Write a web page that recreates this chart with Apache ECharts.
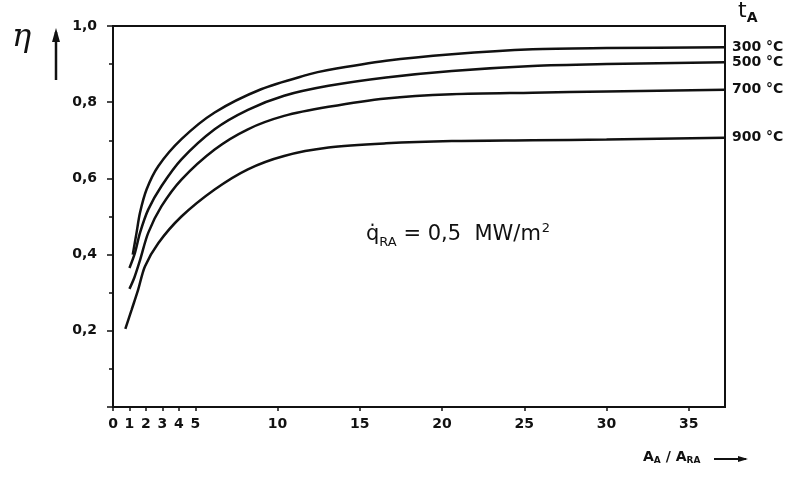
<!DOCTYPE html>
<html>
<head>
<meta charset="utf-8">
<title>eta - A_A/A_RA</title>
<script src="https://cdn.jsdelivr.net/npm/echarts@6.0.0/dist/echarts.min.js"></script>
<style>
html, body { margin: 0; padding: 0; background: #fff; }
#chart_box { width: 794px; height: 477px; }
</style>
</head>
<body>
<div id="chart_box"></div>
<script>
/*----------------------------- 数据 ------------------------------*/
var xTicks = [0, 1, 2, 3, 4, 5, 10, 15, 20, 25, 30, 35];
var yTicks = [0.2, 0.4, 0.6, 0.8, 1.0];
var seriesNames = ['300 °C', '500 °C', '700 °C', '900 °C'];

var eta300 = [[1.2,0.40],[1.43,0.457],[1.64,0.51],[2.04,0.571],[2.75,0.632],[4.16,0.703],[6.18,0.773],
    [9.0,0.834],[11.9,0.873],[13.0,0.884],[16.6,0.909],[20.6,0.926],[25.5,0.939],[30,0.942],[37.2,0.944]];
var eta500 = [[1.0,0.365],[1.33,0.404],[1.64,0.457],[2.14,0.518],[2.95,0.58],[4.16,0.65],[6.18,0.729],
    [8.2,0.78],[10.4,0.817],[13.1,0.843],[16.6,0.865],[20.6,0.882],[25.5,0.895],[30,0.900],[37.2,0.905]];
var eta700 = [[1.0,0.31],[1.3,0.34],[1.64,0.385],[2.14,0.457],[2.95,0.527],[4.16,0.597],[6.18,0.676],
    [8.2,0.729],[10.4,0.764],[13.1,0.788],[16.6,0.81],[20.6,0.821],[25.5,0.825],[30,0.828],[37.2,0.833]];
var eta900 = [[0.75,0.205],[1.13,0.255],[1.53,0.308],[1.94,0.369],[2.75,0.43],[4.16,0.50],[6.18,0.571],
    [8.2,0.624],[10.4,0.659],[13.1,0.681],[16.6,0.692],[20.6,0.698],[25.5,0.70],[30,0.702],[37.2,0.707]];

var font = 'DejaVu Sans';

function makeLine(name, data){
    return {
        name: name,
        type: 'line',
        data: data,
        smooth: 0.3,
        symbol: 'none',
        lineStyle: { color: '#111', width: 2.5 },
        endLabel: {
            show: true,
            formatter: '{a}',
            distance: 7,
            color: '#111',
            fontFamily: font,
            fontWeight: 'bold',
            fontSize: 14
        },
        silent: true
    };
}

function showChart(){
    var myChart = echarts.init(document.getElementById('chart_box'));

    var option = {
        backgroundColor: '#fff',
        animation: false,
        grid: {
            left: 113,
            right: 69,
            top: 26,
            bottom: 70,
            show: true,
            borderColor: '#111',
            borderWidth: 2
        },
        xAxis: {
            type: 'value',
            min: 0,
            max: 37.2,
            axisLine: { lineStyle: { color: '#111', width: 2 } },
            axisTick: { customValues: xTicks, length: 4, lineStyle: { color: '#111', width: 1.5 } },
            axisLabel: {
                customValues: xTicks,
                margin: 10,
                color: '#111',
                fontFamily: font,
                fontWeight: 'bold',
                fontSize: 14
            },
            splitLine: { show: false }
        },
        yAxis: {
            type: 'value',
            min: 0,
            max: 1,
            interval: 0.2,
            axisLine: { show: true, lineStyle: { color: '#111', width: 2 } },
            axisTick: { show: true, length: 6, lineStyle: { color: '#111', width: 1.5 } },
            minorTick: { show: true, splitNumber: 2, length: 4, lineStyle: { color: '#111', width: 1.5 } },
            axisLabel: {
                margin: 16,
                color: '#111',
                fontFamily: font,
                fontWeight: 'bold',
                fontSize: 14,
                formatter: function (v) {
                    if (yTicks.indexOf(Math.round(v * 10) / 10) < 0) return '';
                    return v.toFixed(1).replace('.', ',');
                }
            },
            splitLine: { show: false }
        },
        series: [
            makeLine(seriesNames[0], eta300),
            makeLine(seriesNames[1], eta500),
            makeLine(seriesNames[2], eta700),
            makeLine(seriesNames[3], eta900)
        ],
        graphic: [
            // eta 轴名 + 箭头
            { type: 'text', left: 12, top: 22,
              style: { text: 'η', fontFamily: 'DejaVu Serif', fontStyle: 'italic', fontSize: 32, fill: '#111' } },
            { type: 'line', shape: { x1: 56, y1: 32, x2: 56, y2: 80 }, style: { stroke: '#111', lineWidth: 2.5 } },
            { type: 'polygon', shape: { points: [[52, 42], [56, 28], [60, 42]] }, style: { fill: '#111' } },
            // t_A
            { type: 'text', left: 738, top: 0,
              style: { text: '{t|t}{s|A}', rich: {
                  t: { fontFamily: font, fontSize: 22, fill: '#111' },
                  s: { fontFamily: font, fontSize: 14, fontWeight: 'bold', fill: '#111', padding: [14, 0, 0, 0] } } } },
            // q_RA 注释
            { type: 'text', left: 366, top: 222,
              style: { text: '{n|q\u0307}{s|RA}{n| = 0,5  MW/m}{p|2}', rich: {
                  n: { fontFamily: font, fontSize: 21, fill: '#111' },
                  s: { fontFamily: font, fontSize: 13, fill: '#111', padding: [15, 0, 0, 0] },
                  p: { fontFamily: font, fontSize: 13, fill: '#111', padding: [0, 0, 13, 1] } } } },
            // x 轴名
            { type: 'text', left: 643, top: 450,
              style: { text: '{n|A}{s|A}{n| / A}{s|RA}', rich: {
                  n: { fontFamily: font, fontSize: 14, fontWeight: 'bold', fill: '#111' },
                  s: { fontFamily: font, fontSize: 9, fontWeight: 'bold', fill: '#111', padding: [8, 0, 0, 0] } } } },
            { type: 'line', shape: { x1: 714, y1: 459, x2: 746, y2: 459 }, style: { stroke: '#111', lineWidth: 2 } },
            { type: 'polygon', shape: { points: [[738, 456], [748, 459], [738, 462]] }, style: { fill: '#111' } }
        ]
    };

    myChart.setOption(option);
    window.onresize = function() {
        myChart.resize();
    }
}

showChart();
</script>
</body>
</html>
